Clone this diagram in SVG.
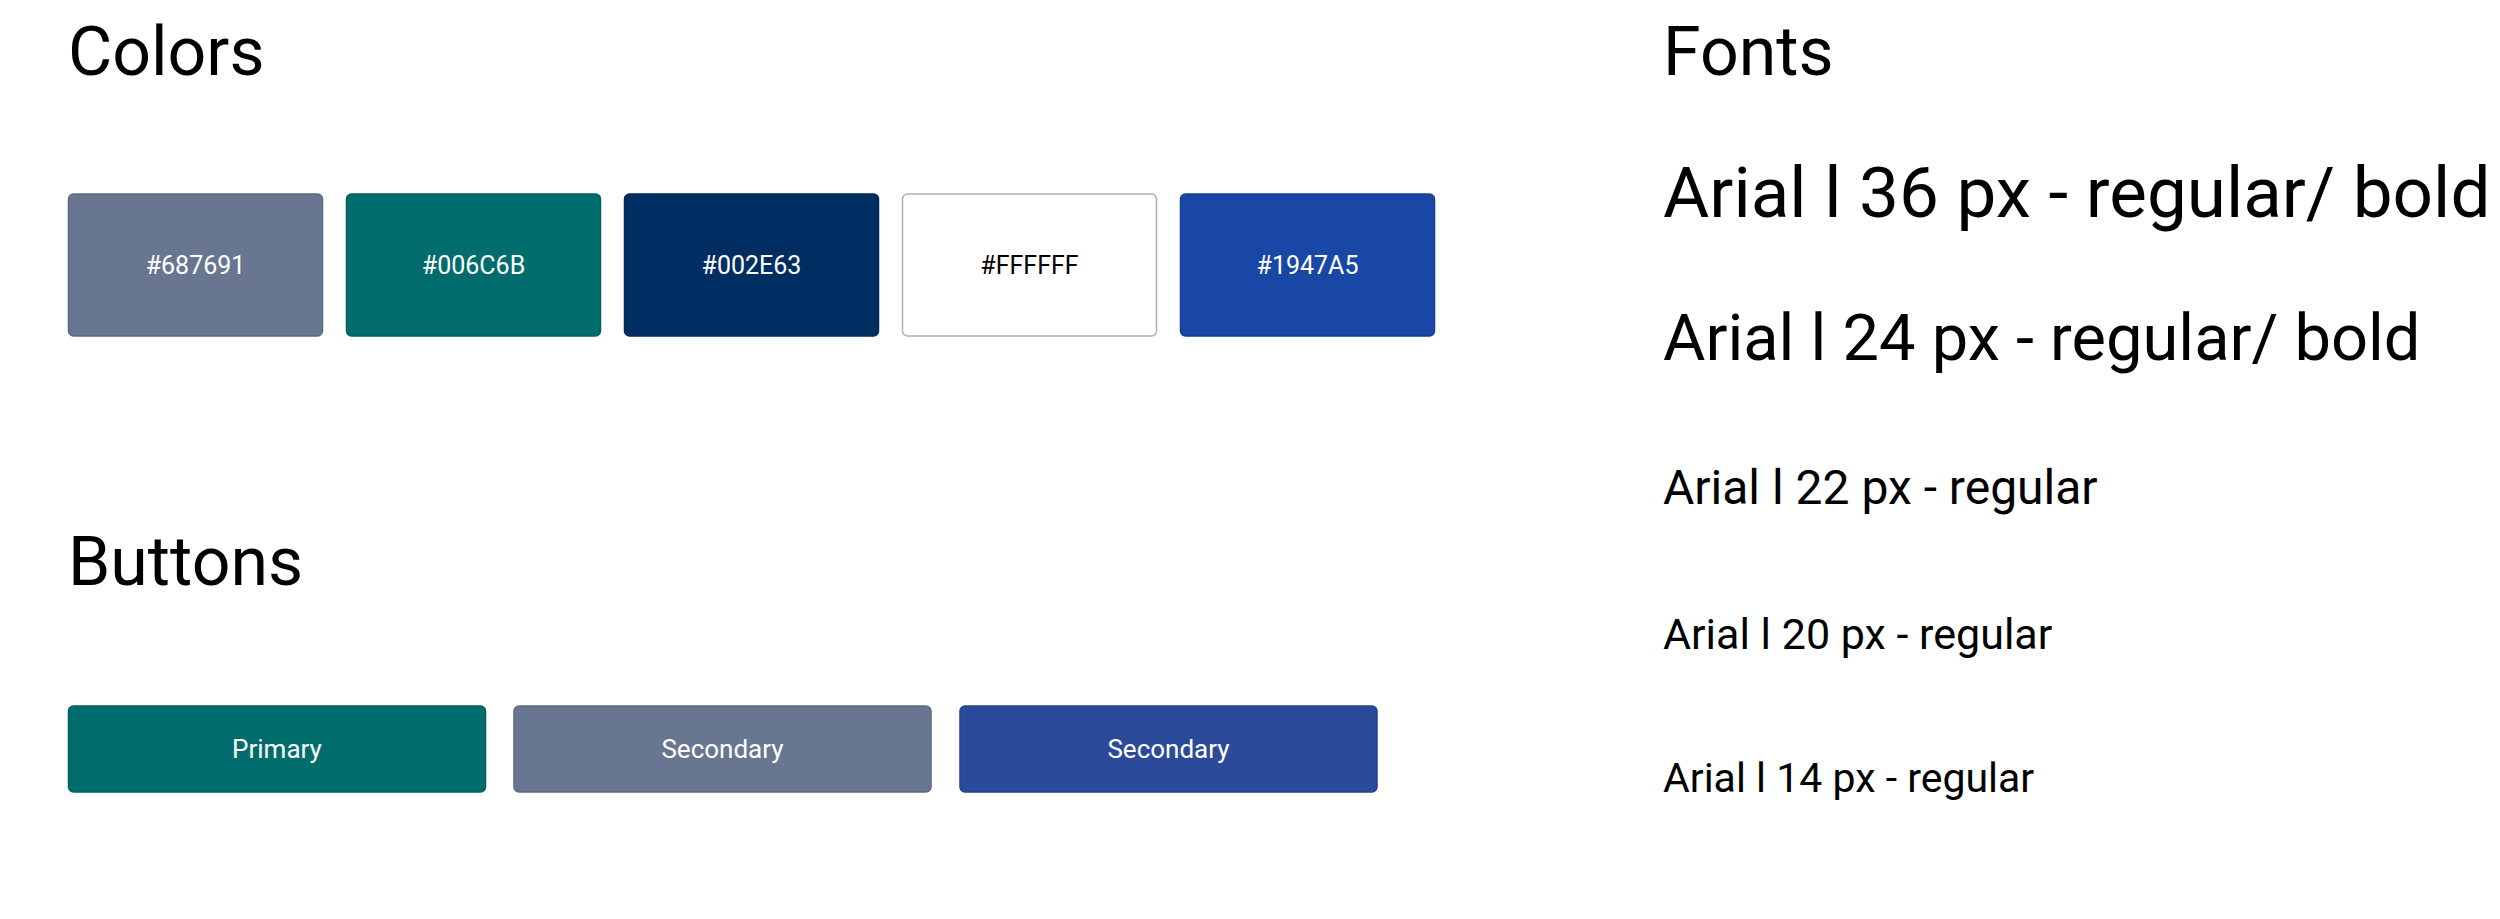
<svg xmlns="http://www.w3.org/2000/svg" width="2500" height="919" viewBox="0 0 2500 919">
<style>
text{font-family:Roboto,"Liberation Sans",sans-serif;fill:#000}
.h{font-size:68px}
.sw{stroke:none}
.lbl{font-size:25px;fill:#fff;text-anchor:middle;dominant-baseline:central}
.bl{font-size:26px;fill:#fff;text-anchor:middle;dominant-baseline:central}
</style>
<rect width="2500" height="919" fill="#fff"/>
<g id="colors">
<text class="h" x="68" y="75">Colors</text>
<g id="c1"><rect x="68.5" y="194" width="254" height="142" rx="5" fill="#687691" stroke="#5d6a84" stroke-width="1.5"/><text class="lbl" x="195.5" y="265">#687691</text></g>
<g id="c2"><rect x="346.5" y="194" width="254" height="142" rx="5" fill="#006C6B" stroke="#006160" stroke-width="1.5"/><text class="lbl" x="473.5" y="265">#006C6B</text></g>
<g id="c3"><rect x="624.5" y="194" width="254" height="142" rx="5" fill="#002E63" stroke="#002959" stroke-width="1.5"/><text class="lbl" x="751.5" y="265">#002E63</text></g>
<g id="c4"><rect x="902.5" y="194" width="254" height="142" rx="5" fill="#FFFFFF" stroke="#b0b0b0" stroke-width="1.5"/><text class="lbl" x="1029.5" y="265" style="fill:#000">#FFFFFF</text></g>
<g id="c5"><rect x="1180.5" y="194" width="254" height="142" rx="5" fill="#1947A5" stroke="#163f94" stroke-width="1.5"/><text class="lbl" x="1307.5" y="265">#1947A5</text></g>
</g>
<g id="buttons">
<text class="h" x="68" y="585">Buttons</text>
<g id="b1"><rect x="68.5" y="706" width="417" height="86" rx="5" fill="#006C6B" stroke="#006160" stroke-width="1.5"/><text class="bl" x="277" y="749">Primary</text></g>
<g id="b2"><rect x="514" y="706" width="417" height="86" rx="5" fill="#687691" stroke="#5d6a84" stroke-width="1.5"/><text class="bl" x="722.5" y="749">Secondary</text></g>
<g id="b3"><rect x="960" y="706" width="417" height="86" rx="5" fill="#2B4A9A" stroke="#26428a" stroke-width="1.5"/><text class="bl" x="1168.5" y="749">Secondary</text></g>
</g>
<g id="fonts">
<text class="h" x="1663" y="75">Fonts</text>
<text x="1663" y="217" font-size="71">Arial l 36 px - regular/ bold</text>
<text x="1663" y="360" font-size="65">Arial l 24 px - regular/ bold</text>
<text x="1663" y="504" font-size="48">Arial l 22 px - regular</text>
<text x="1663" y="649" font-size="43">Arial l 20 px - regular</text>
<text x="1663" y="792" font-size="41">Arial l 14 px - regular</text>
</g>
</svg>
